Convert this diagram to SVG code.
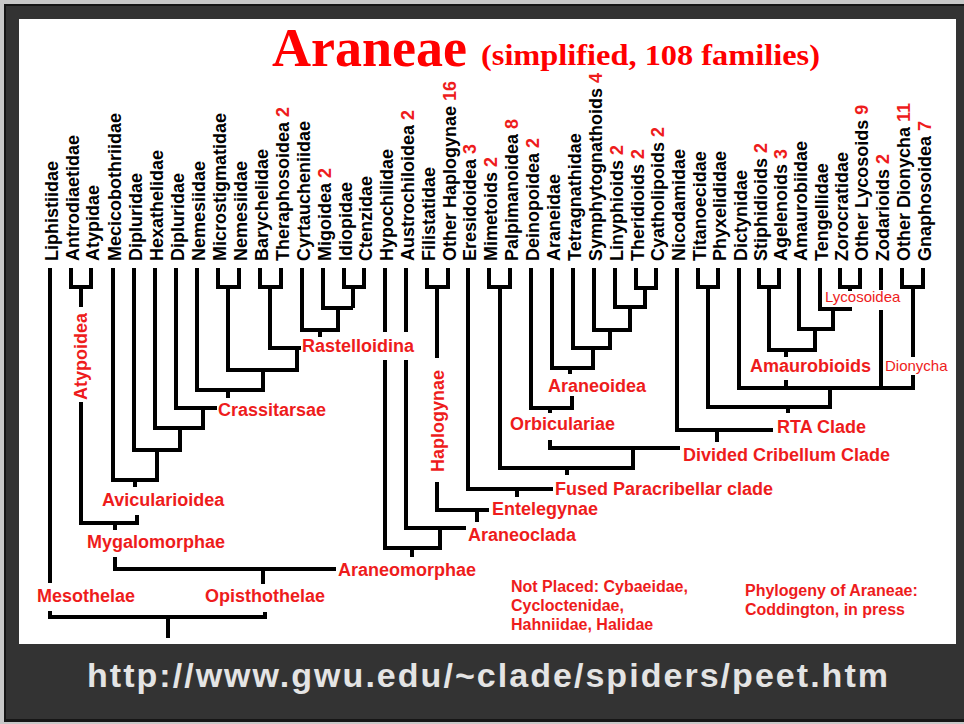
<svg xmlns="http://www.w3.org/2000/svg" width="964" height="724" viewBox="0 0 964 724">
<style>
.t{font-family:"Liberation Sans",Arial,sans-serif;font-weight:bold;font-size:18px;fill:#000}
.n{fill:#ee1c1c}
.c{font-family:"Liberation Sans",Arial,sans-serif;font-weight:bold;font-size:18px;fill:#ee1c1c}
.s{font-family:"Liberation Sans",Arial,sans-serif;font-size:15px;fill:#ee1c1c}
.e{font-family:"Liberation Sans",Arial,sans-serif;font-weight:bold;font-size:16px;fill:#ee1c1c}
.ln{fill:none;stroke:#000;stroke-width:4;stroke-linejoin:miter}
</style>
<rect x="0" y="0" width="964" height="724" fill="#c8c8c8"/>
<rect x="4" y="4" width="960" height="718" fill="#161616"/>
<rect x="6" y="6" width="958" height="713" fill="#333333"/>
<rect x="19" y="19" width="937" height="625" fill="#ffffff"/>
<g id="title">
<text x="272" y="66" font-family="Liberation Serif,Times New Roman,serif" font-weight="bold" font-size="54" fill="#ff0000">Araneae</text>
<text x="481" y="65" font-family="Liberation Serif,Times New Roman,serif" font-weight="bold" font-size="30" fill="#ff0000" textLength="339" lengthAdjust="spacingAndGlyphs">(simplified, 108 families)</text>
</g>
<g id="connectors" class="ln">
<path d="M50 268V583M50 611V617H265V612M168 617V638"/>
<path d="M71 268V287H91V268M81 287V307M81 402V523H137V515M115 523V530"/>
<path d="M115 557V569H336M263 569V584"/>
<path d="M113 268V480H157V450M135 480V487"/>
<path d="M134 268V450H180V428"/>
<path d="M155 268V428H203V408"/>
<path d="M176 268V408H217"/>
<path d="M197 268V390H263V370M228 390V398"/>
<path d="M218 268V287H239V268M228 287V370H297V348"/>
<path d="M260 268V287H281V268M270 287V348H301"/>
<path d="M302 268V330H338V308M320 330V337"/>
<path d="M323 268V308H353"/>
<path d="M344 268V287H364V268M353 287V308"/>
<path d="M385 268V332M385 360V548H440V528M412 548V557"/>
<path d="M406 268V332M406 360V528H466"/>
<path d="M427 268V287H448V268M437 287V358M437 482V510H489M477 510V522"/>
<path d="M468 268V489H553M517 489V497"/>
<path d="M489 268V287H510V268M500 287V468H633V448M567 468V475"/>
<path d="M550 440V448H680"/>
<path d="M531 268V408H572V396M550 408V413"/>
<path d="M552 268V368H593V348M570 368V374"/>
<path d="M573 268V348H610V330"/>
<path d="M594 268V330H630V307"/>
<path d="M615 268V307H645V288"/>
<path d="M636 268V288H656V268"/>
<path d="M677 268V430H773M717 430V442"/>
<path d="M698 268V287H718V268M708 287V407H830V388M788 407V413"/>
<path d="M739 268V388H913V375M786 380V388"/>
<path d="M881 268V290M881 310V388"/>
<path d="M759 268V287H779V268M769 287V350H815V329M786 350V357"/>
<path d="M799 268V329H833V309"/>
<path d="M820 268V309H852"/>
<path d="M840 268V287H860V268M850 287V291"/>
<path d="M902 268V287H923V268M913 287V357"/>
</g>
<g id="t01"><text class="t" transform="translate(58,261) rotate(-90)">Liphistiidae</text></g>
<g id="t02"><text class="t" transform="translate(79,261) rotate(-90)">Antrodiaetidae</text></g>
<g id="t03"><text class="t" transform="translate(99,261) rotate(-90)">Atypidae</text></g>
<g id="t04"><text class="t" transform="translate(121,261) rotate(-90)">Mecicobothriidae</text></g>
<g id="t05"><text class="t" transform="translate(142,261) rotate(-90)">Dipluridae</text></g>
<g id="t06"><text class="t" transform="translate(163,261) rotate(-90)">Hexathelidae</text></g>
<g id="t07"><text class="t" transform="translate(184,261) rotate(-90)">Dipluridae</text></g>
<g id="t08"><text class="t" transform="translate(205,261) rotate(-90)">Nemesiidae</text></g>
<g id="t09"><text class="t" transform="translate(226,261) rotate(-90)">Microstigmatidae</text></g>
<g id="t10"><text class="t" transform="translate(247,261) rotate(-90)">Nemesiidae</text></g>
<g id="t11"><text class="t" transform="translate(268,261) rotate(-90)">Barychelidae</text></g>
<g id="t12"><text class="t" transform="translate(289,261) rotate(-90)">Theraphosoidea <tspan class="n">2</tspan></text></g>
<g id="t13"><text class="t" transform="translate(310,261) rotate(-90)">Cyrtaucheniidae</text></g>
<g id="t14"><text class="t" transform="translate(331,261) rotate(-90)">Migoidea <tspan class="n">2</tspan></text></g>
<g id="t15"><text class="t" transform="translate(352,261) rotate(-90)">Idiopidae</text></g>
<g id="t16"><text class="t" transform="translate(372,261) rotate(-90)">Ctenzidae</text></g>
<g id="t17"><text class="t" transform="translate(393,261) rotate(-90)">Hypochilidae</text></g>
<g id="t18"><text class="t" transform="translate(414,261) rotate(-90)">Austrochiloidea <tspan class="n">2</tspan></text></g>
<g id="t19"><text class="t" transform="translate(435,261) rotate(-90)">Filistatidae</text></g>
<g id="t20"><text class="t" transform="translate(456,261) rotate(-90)">Other Haplogynae <tspan class="n">16</tspan></text></g>
<g id="t21"><text class="t" transform="translate(476,261) rotate(-90)">Eresidoidea <tspan class="n">3</tspan></text></g>
<g id="t22"><text class="t" transform="translate(497,261) rotate(-90)">Mimetoids <tspan class="n">2</tspan></text></g>
<g id="t23"><text class="t" transform="translate(518,261) rotate(-90)">Palpimanoidea <tspan class="n">8</tspan></text></g>
<g id="t24"><text class="t" transform="translate(539,261) rotate(-90)">Deinopoidea <tspan class="n">2</tspan></text></g>
<g id="t25"><text class="t" transform="translate(560,261) rotate(-90)">Araneidae</text></g>
<g id="t26"><text class="t" transform="translate(581,261) rotate(-90)">Tetragnathidae</text></g>
<g id="t27"><text class="t" transform="translate(602,261) rotate(-90)">Symphytognathoids <tspan class="n">4</tspan></text></g>
<g id="t28"><text class="t" transform="translate(623,261) rotate(-90)">Linyphioids <tspan class="n">2</tspan></text></g>
<g id="t29"><text class="t" transform="translate(644,261) rotate(-90)">Theridioids <tspan class="n">2</tspan></text></g>
<g id="t30"><text class="t" transform="translate(664,261) rotate(-90)">Cyatholipoids <tspan class="n">2</tspan></text></g>
<g id="t31"><text class="t" transform="translate(685,261) rotate(-90)">Nicodamidae</text></g>
<g id="t32"><text class="t" transform="translate(706,261) rotate(-90)">Titanoecidae</text></g>
<g id="t33"><text class="t" transform="translate(726,261) rotate(-90)">Phyxelididae</text></g>
<g id="t34"><text class="t" transform="translate(747,261) rotate(-90)">Dictynidae</text></g>
<g id="t35"><text class="t" transform="translate(767,261) rotate(-90)">Stiphidioids <tspan class="n">2</tspan></text></g>
<g id="t36"><text class="t" transform="translate(787,261) rotate(-90)">Agelenoids <tspan class="n">3</tspan></text></g>
<g id="t37"><text class="t" transform="translate(807,261) rotate(-90)">Amaurobiidae</text></g>
<g id="t38"><text class="t" transform="translate(828,261) rotate(-90)">Tengellidae</text></g>
<g id="t39"><text class="t" transform="translate(848,261) rotate(-90)">Zorocratidae</text></g>
<g id="t40"><text class="t" transform="translate(868,261) rotate(-90)">Other Lycosoids <tspan class="n">9</tspan></text></g>
<g id="t41"><text class="t" transform="translate(889,261) rotate(-90)">Zodarioids <tspan class="n">2</tspan></text></g>
<g id="t42"><text class="t" transform="translate(910,261) rotate(-90)">Other Dionycha <tspan class="n">11</tspan></text></g>
<g id="t43"><text class="t" transform="translate(931,261) rotate(-90)">Gnaphosoidea <tspan class="n">7</tspan></text></g>
<g id="atypoidea"><text class="c" transform="translate(87,400) rotate(-90)">Atypoidea</text></g>
<g id="haplogynae"><text class="c" transform="translate(444,472) rotate(-90)">Haplogynae</text></g>
<g id="rastelloidina"><text class="c" x="302" y="352">Rastelloidina</text></g>
<g id="crassitarsae"><text class="c" x="218" y="416">Crassitarsae</text></g>
<g id="avicularioidea"><text class="c" x="102" y="506">Avicularioidea</text></g>
<g id="mygalomorphae"><text class="c" x="87" y="548">Mygalomorphae</text></g>
<g id="araneomorphae"><text class="c" x="338" y="576">Araneomorphae</text></g>
<g id="mesothelae"><text class="c" x="37" y="602">Mesothelae</text></g>
<g id="opisthothelae"><text class="c" x="205" y="602">Opisthothelae</text></g>
<g id="araneoclada"><text class="c" x="468" y="541">Araneoclada</text></g>
<g id="entelegynae"><text class="c" x="492" y="515">Entelegynae</text></g>
<g id="fused"><text class="c" x="555" y="495">Fused Paracribellar clade</text></g>
<g id="orbiculariae"><text class="c" x="510" y="430">Orbiculariae</text></g>
<g id="araneoidea"><text class="c" x="548" y="392">Araneoidea</text></g>
<g id="divided"><text class="c" x="683" y="461">Divided Cribellum Clade</text></g>
<g id="rta"><text class="c" x="777" y="433">RTA Clade</text></g>
<g id="amaurobioids"><text class="c" x="750" y="372">Amaurobioids</text></g>
<g id="lycosoidea"><text class="s" x="825" y="302">Lycosoidea</text></g>
<g id="dionycha"><text class="s" x="885" y="371">Dionycha</text></g>
<g id="notplaced"><text class="e" x="511" y="592">Not Placed: Cybaeidae,</text><text class="e" x="511" y="611">Cycloctenidae,</text><text class="e" x="511" y="630">Hahniidae, Halidae</text></g>
<g id="source"><text class="e" x="745" y="596">Phylogeny of Araneae:</text><text class="e" x="745" y="615">Coddington, in press</text></g>
<g id="url"><text x="87" y="687" font-family="Liberation Sans,Arial,sans-serif" font-weight="bold" font-size="34" fill="#e4e4e4" textLength="801" lengthAdjust="spacing">http://www.gwu.edu/~clade/spiders/peet.htm</text></g>
</svg>
